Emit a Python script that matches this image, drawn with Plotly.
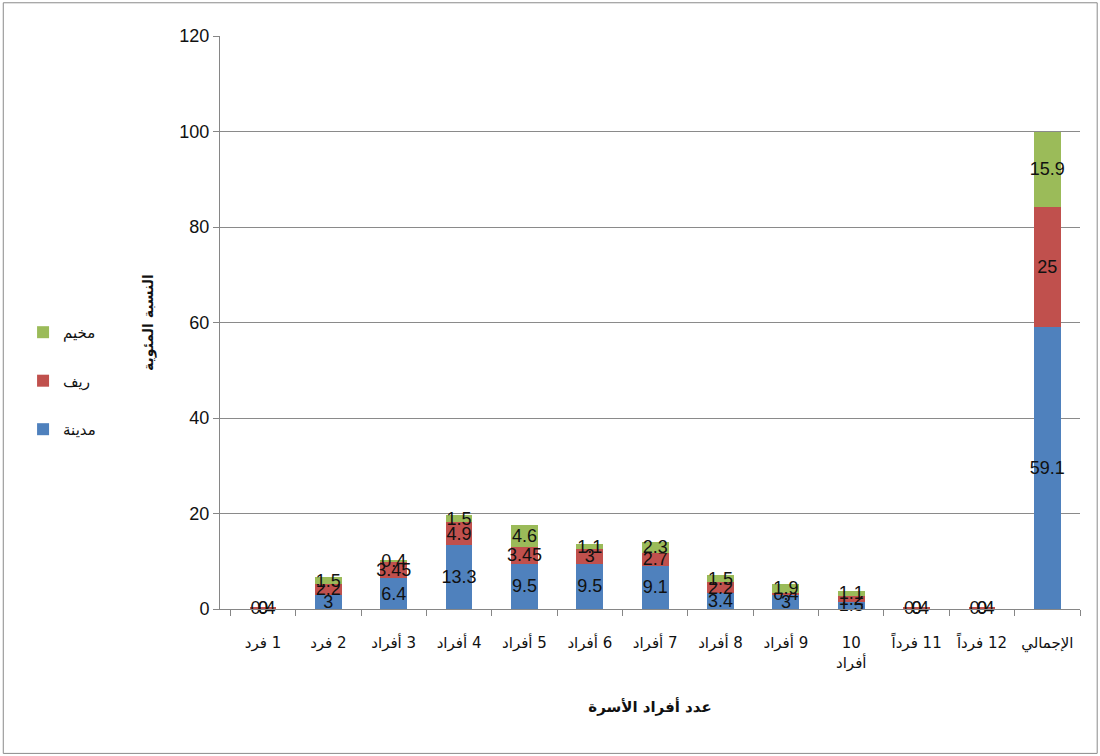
import plotly.graph_objects as go

RLM = "\u200f"

# Household size categories (x axis)
categories = ["1 فرد", "2 فرد", "3 أفراد", "4 أفراد", "5 أفراد", "6 أفراد", "7 أفراد",
              "8 أفراد", "9 أفراد", "10<br>أفراد", "11 فرداً", "12 فرداً", "الإجمالي"]

# Percentages by place of residence
city = [0, 3, 6.4, 13.3, 9.5, 9.5, 9.1, 3.4, 3, 1.5, 0, 0, 59.1]      # مدينة
rural = [0.4, 2.2, 3.45, 4.9, 3.45, 3, 2.7, 2.2, 0.4, 1.2, 0.4, 0.4, 25]  # ريف
camp = [0, 1.5, 0.4, 1.5, 4.6, 1.1, 2.3, 1.5, 1.9, 1.1, 0, 0, 15.9]    # مخيم

series_names = ["مدينة", "ريف", "مخيم"]
series_colors = ["#4F81BD", "#C0504D", "#9BBB59"]
legend_ranks = [3, 2, 1]

y_ticks = [0, 20, 40, 60, 80, 100, 120]

# right-to-left mark keeps the number on the left of the word
x_labels = [c if "<br>" in c else RLM + c for c in categories]

label_font = dict(family="Liberation Sans, Arial", size=18, color="#111")

fig = go.Figure()
for name, vals, color, rank in zip(series_names, [city, rural, camp], series_colors, legend_ranks):
    fig.add_trace(go.Bar(
        x=x_labels, y=vals, name=name, legendgroup=name, legendrank=rank,
        marker=dict(color=color, line=dict(width=0)),
        text=[f"{v:g}" for v in vals],
        textposition="inside",
        insidetextanchor="middle",
        textangle=0,
        constraintext="none",
        textfont=label_font,
        cliponaxis=False,
    ))

# zero-height segments still carry a "0" label at the baseline
zero_x, zero_y = [], []
for vals in [city, rural, camp]:
    for c, v in zip(x_labels, vals):
        if v == 0:
            zero_x.append(c)
            zero_y.append(0)
fig.add_trace(go.Scatter(
    x=zero_x, y=zero_y, mode="text", text=["0"] * len(zero_x),
    textposition="middle center", textfont=label_font,
    showlegend=False, hoverinfo="skip", cliponaxis=False,
))

fig.update_layout(
    barmode="stack",
    bargap=0.59,
    width=1100, height=756,
    margin=dict(l=220, r=20, t=36, b=147),
    paper_bgcolor="white",
    plot_bgcolor="white",
    uniformtext=dict(minsize=18, mode="show"),
    font=dict(family="DejaVu Sans, Liberation Sans, Arial", color="#111"),
    legend=dict(
        x=-0.229, y=0.398, xanchor="left", yanchor="middle",
        traceorder="grouped",
        font=dict(size=15, family="DejaVu Sans"),
        itemwidth=30, tracegroupgap=26,
        bgcolor="rgba(0,0,0,0)",
    ),
    showlegend=True,
    shapes=[dict(type="rect", xref="paper", yref="paper",
                 x0=-0.252, x1=1.02, y0=-0.252, y1=1.058,
                 line=dict(color="#8a8a8a", width=1))],
)

fig.update_xaxes(
    type="category",
    showline=True, linecolor="#868686", linewidth=1,
    ticks="outside", tickson="boundaries", ticklen=6, tickcolor="#868686",
    ticklabelstandoff=20,
    tickfont=dict(size=15, family="DejaVu Sans, Liberation Sans"),
    title=dict(text="<b>عدد أفراد الأسرة</b>", font=dict(size=15, family="DejaVu Sans"), standoff=30),
    showgrid=False,
)
fig.update_yaxes(
    range=[0, 120], tickvals=y_ticks,
    showline=True, linecolor="#868686", linewidth=1,
    ticks="outside", ticklen=6, tickcolor="#868686",
    showgrid=True, gridcolor="#8a8a8a", gridwidth=1,
    tickfont=dict(size=18, family="Liberation Sans, Arial"),
    title=dict(text="<b>النسبة المئوية</b>", font=dict(size=14, family="DejaVu Sans"), standoff=22),
    zeroline=False,
)

fig.write_html("out.html")
